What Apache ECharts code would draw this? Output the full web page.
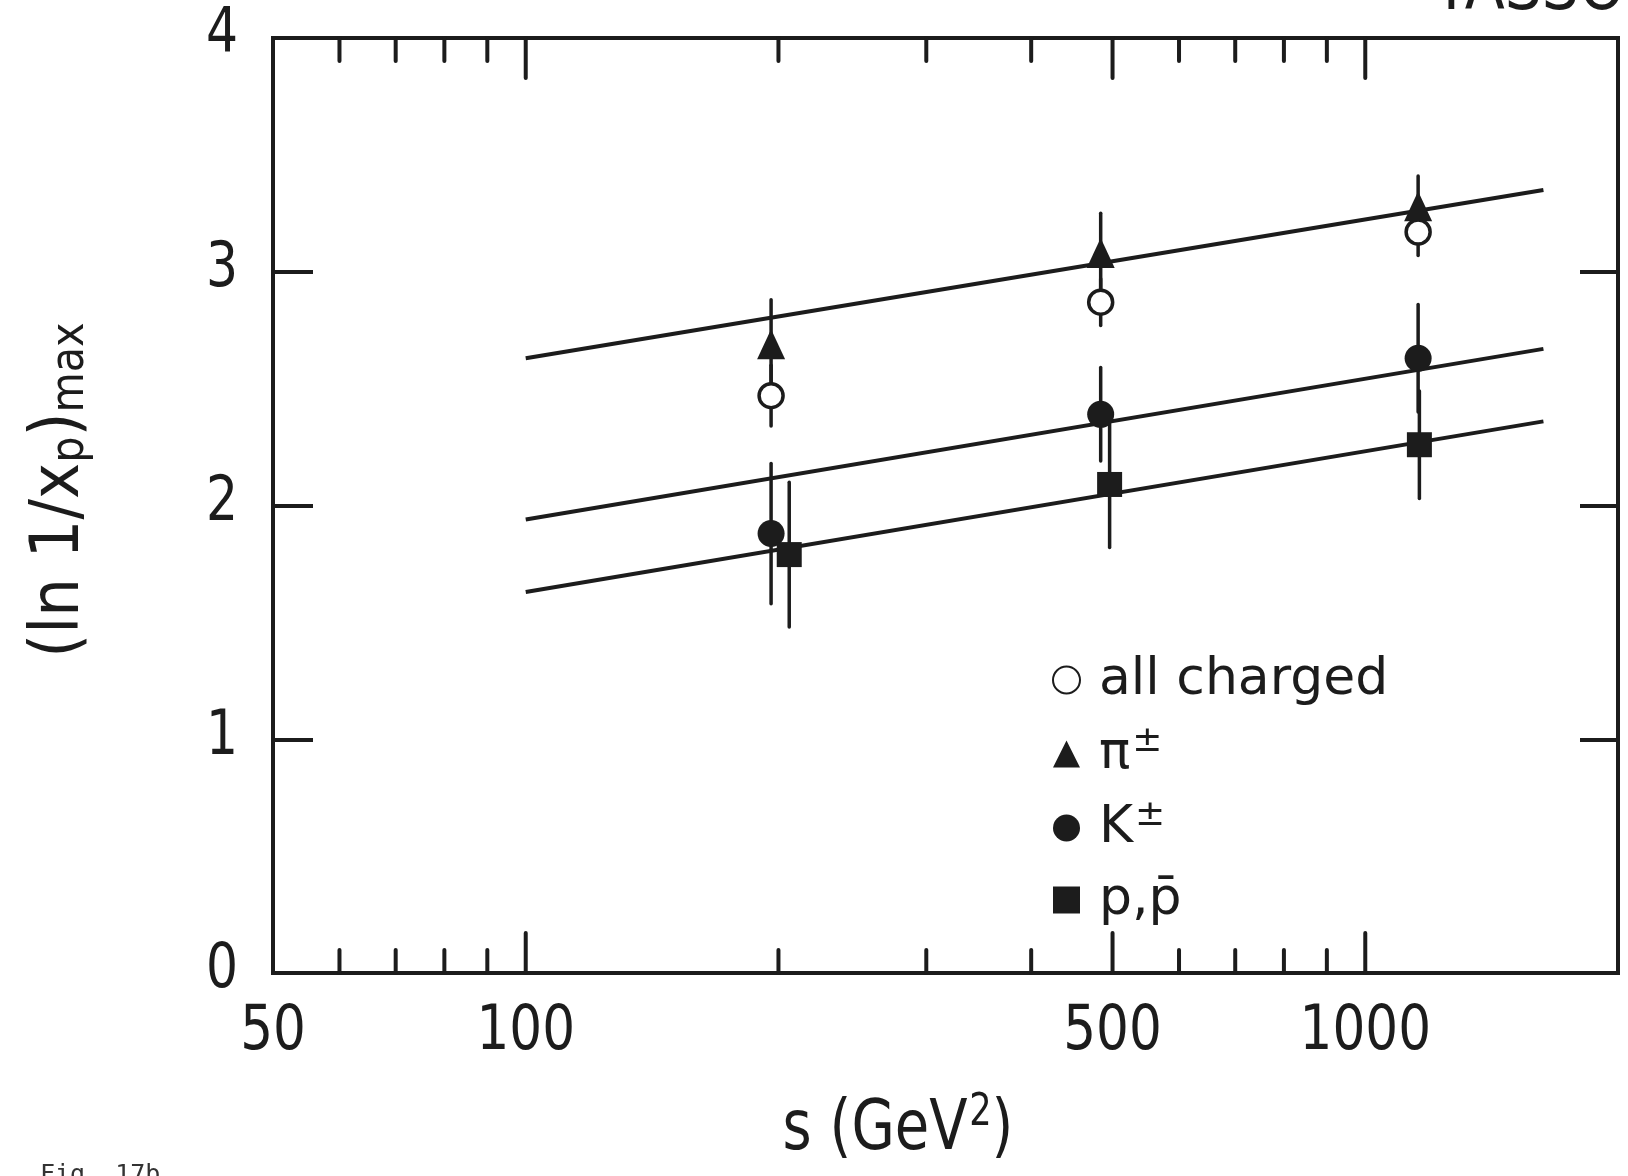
<!DOCTYPE html>
<html>
<head>
<meta charset="utf-8">
<script src="https://cdn.jsdelivr.net/npm/echarts@6/dist/echarts.min.js"></script>
<style>
html,body{margin:0;padding:0;background:#fff;}
#chart{width:1628px;height:1176px;}
</style>
</head>
<body>
<div id="chart"></div>
<script>
// ---- data ----
const sValues   = [196, 484, 1156];       // s (GeV^2) for all charged, pi, K
const sProton   = [206, 496, 1160];       // p points are drawn slightly displaced
const allCharged    = [2.47, 2.87, 3.17];
const allChargedErr = [0.13, 0.10, 0.10];
const pion    = [2.69, 3.08, 3.28];
const pionErr = [0.19, 0.17, 0.13];
const kaon    = [1.88, 2.39, 2.63];
const kaonErr = [0.30, 0.20, 0.23];
const proton    = [1.79, 2.09, 2.26];
const protonErr = [0.31, 0.27, 0.23];
const fitS  = [100, 1630];
const fitPi = [2.63, 3.35];
const fitK  = [1.94, 2.67];
const fitP  = [1.63, 2.36];
const xMinorTicks = [60, 70, 80, 90, 200, 300, 400, 600, 700, 800, 900];
const xMajorTicks = [100, 500, 1000];
const xTickLabels = [50, 100, 500, 1000];
const yTickLabels = [0, 1, 2, 3, 4];
const xMin = 50, xMax = 2000, yMin = 0, yMax = 4;

const INK = '#1c1c1c';
const FONT = 'DejaVu Sans';

function pts(xs, ys) { return xs.map((x, i) => [x, ys[i]]); }
function errs(xs, ys, es) { return xs.map((x, i) => [x, ys[i] - es[i], ys[i] + es[i]]); }

function errRender(params, api) {
  const s = api.value(0);
  const a = api.coord([s, api.value(1)]);
  const b = api.coord([s, api.value(2)]);
  return { type: 'line', shape: { x1: a[0], y1: a[1], x2: b[0], y2: b[1] },
           style: { stroke: INK, lineWidth: 3.5, lineCap: 'round' } };
}
function tickRender(len) {
  return function (params, api) {
    const v = api.value(0);
    const b = api.coord([v, yMin]);
    const t = api.coord([v, yMax]);
    const st = { stroke: INK, lineWidth: 4, lineCap: 'round' };
    return { type: 'group', children: [
      { type: 'line', shape: { x1: b[0], y1: b[1], x2: b[0], y2: b[1] - len }, style: st },
      { type: 'line', shape: { x1: t[0], y1: t[1], x2: t[0], y2: t[1] + len }, style: st }
    ]};
  };
}
function xLabelRender(params, api) {
  const v = api.value(0);
  const p = api.coord([v, yMin]);
  return { type: 'text', x: p[0], y: p[1] + 60, scaleX: 0.82,
           style: { text: String(v), fill: INK, fontSize: 63, fontFamily: FONT,
                    align: 'center', verticalAlign: 'middle' } };
}
function yLabelRender(params, api) {
  const v = api.value(1);
  const p = api.coord([xMin, v]);
  return { type: 'text', x: p[0] - 51, y: p[1] - 2, scaleX: 0.8,
           style: { text: String(v), fill: INK, fontSize: 63, fontFamily: FONT,
                    align: 'center', verticalAlign: 'middle' } };
}

const chart = echarts.init(document.getElementById('chart'), null, { renderer: 'canvas' });
const lineStyle = { color: INK, width: 4 };

chart.setOption({
  backgroundColor: '#ffffff',
  animation: false,
  grid: { left: 273, right: 10, top: 38, bottom: 203, show: true,
          borderColor: INK, borderWidth: 4, backgroundColor: 'transparent' },
  xAxis: { type: 'log', logBase: 10, min: xMin, max: xMax,
           axisLine: { show: false }, axisTick: { show: false },
           axisLabel: { show: false }, splitLine: { show: false } },
  yAxis: [
    { type: 'value', min: yMin, max: yMax, interval: 1, position: 'left',
      axisLine: { show: false }, axisLabel: { show: false }, splitLine: { show: false },
      axisTick: { show: true, inside: true, length: 40, lineStyle: { color: INK, width: 4 } } },
    { type: 'value', min: yMin, max: yMax, interval: 1, position: 'right',
      axisLine: { show: false }, axisLabel: { show: false }, splitLine: { show: false },
      axisTick: { show: true, inside: true, length: 38, lineStyle: { color: INK, width: 4 } } }
  ],
  legend: {
    orient: 'vertical', left: 1052, top: 652, padding: 0,
    itemWidth: 27, itemHeight: 27, itemGap: 16, selectedMode: false,
    data: ['all charged', 'π±', 'K±', 'p,p\u0304'],
    formatter: function (name) {
      if (name === 'π±') return 'π{s|±}';
      if (name === 'K±') return 'K{s|±}';
      return name;
    },
    textStyle: { color: INK, fontSize: 52, fontFamily: FONT, lineHeight: 56,
                 padding: [0, 0, 0, 14],
                 rich: { s: { fontSize: 36, fontFamily: FONT, color: INK, padding: [0, 0, 24, 2] } } }
  },
  series: [
    { type: 'line', name: 'fit π', data: pts(fitS, fitPi), symbol: 'none', lineStyle: lineStyle, silent: true },
    { type: 'line', name: 'fit K', data: pts(fitS, fitK), symbol: 'none', lineStyle: lineStyle, silent: true },
    { type: 'line', name: 'fit p', data: pts(fitS, fitP), symbol: 'none', lineStyle: lineStyle, silent: true },
    { type: 'custom', name: 'err all', renderItem: errRender, data: errs(sValues, allCharged, allChargedErr), silent: true },
    { type: 'custom', name: 'err pi', renderItem: errRender, data: errs(sValues, pion, pionErr), silent: true },
    { type: 'custom', name: 'err K', renderItem: errRender, data: errs(sValues, kaon, kaonErr), silent: true },
    { type: 'custom', name: 'err p', renderItem: errRender, data: errs(sProton, proton, protonErr), silent: true },
    { type: 'scatter', name: 'all charged', data: pts(sValues, allCharged), symbol: 'circle', symbolSize: 24,
      itemStyle: { color: '#ffffff', borderColor: INK, borderWidth: 3.5, opacity: 1 }, z: 5 },
    { type: 'scatter', name: 'π±', data: pts(sValues, pion), symbol: 'triangle', symbolSize: [28, 30],
      itemStyle: { color: INK, opacity: 1 }, z: 5 },
    { type: 'scatter', name: 'K±', data: pts(sValues, kaon), symbol: 'circle', symbolSize: 27,
      itemStyle: { color: INK, opacity: 1 }, z: 5 },
    { type: 'scatter', name: 'p,p\u0304', data: pts(sProton, proton), symbol: 'rect', symbolSize: 25,
      itemStyle: { color: INK, opacity: 1 }, z: 5 },
    { type: 'custom', name: 'minor ticks', renderItem: tickRender(23), data: xMinorTicks.map(v => [v, 0]), silent: true },
    { type: 'custom', name: 'major ticks', renderItem: tickRender(40), data: xMajorTicks.map(v => [v, 0]), silent: true },
    { type: 'custom', name: 'x labels', renderItem: xLabelRender, data: xTickLabels.map(v => [v, 0]), silent: true },
    { type: 'custom', name: 'y labels', renderItem: yLabelRender, data: yTickLabels.map(v => [xMin, v]), silent: true }
  ],
  graphic: [
    { type: 'text', x: 1625, y: 25, scaleX: 0.86,
      style: { text: 'TASSO', fill: INK, fontSize: 68, fontFamily: FONT, align: 'right', verticalAlign: 'bottom' } },
    { type: 'text', x: 898, y: 1131, scaleX: 0.8,
      style: { text: 's (GeV{s|2})', fill: INK, fontSize: 70, fontFamily: FONT, align: 'center', verticalAlign: 'middle',
               rich: { s: { fontSize: 44, fontFamily: FONT, fill: INK, padding: [0, 0, 34, 2] } } } },
    { type: 'text', x: 60, y: 490, rotation: Math.PI / 2, scaleX: 0.9,
      style: { text: '(ln 1/x{p|p}){p|max}', fill: INK, fontSize: 68, fontFamily: FONT, align: 'center', verticalAlign: 'middle',
               rich: { p: { fontSize: 46, fontFamily: FONT, fill: INK, padding: [22, 0, 0, 0] } } } },
    { type: 'text', x: 40, y: 1163,
      style: { text: 'Fig. 17b', fill: '#333', fontSize: 25, fontFamily: 'DejaVu Sans Mono', align: 'left', verticalAlign: 'top' } }
  ]
});
</script>
</body>
</html>
